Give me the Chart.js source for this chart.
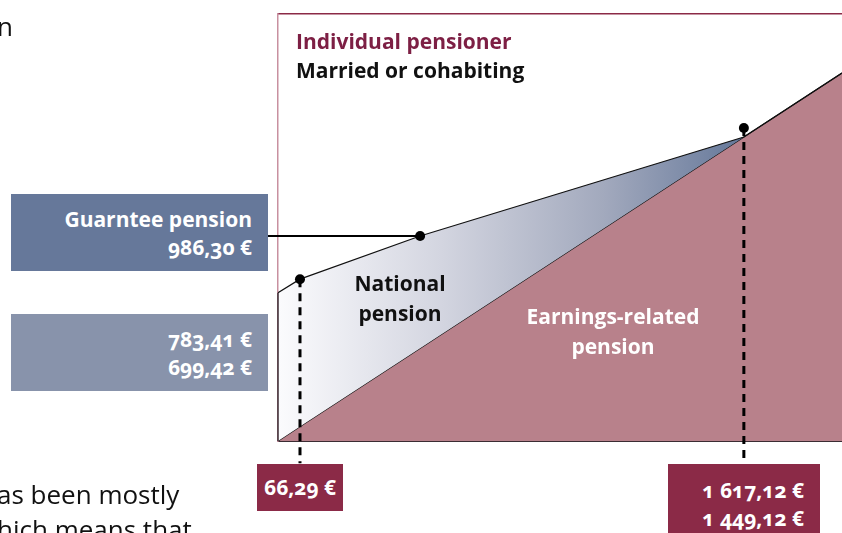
<!DOCTYPE html>
<html>
<head>
<meta charset="utf-8">
<script src="https://cdn.jsdelivr.net/npm/chart.js@4.4.1/dist/chart.umd.min.js"></script>
<style>
  html,body{margin:0;padding:0;background:#fff;overflow:hidden;}
  #wrap{position:relative;width:842px;height:533px;overflow:hidden;font-family:"Open Sans",Lato,sans-serif;}
  canvas{position:absolute;left:0;top:0;}
  .ov{position:absolute;white-space:nowrap;}
  .box{position:absolute;color:#fff;font-weight:700;font-size:21px;line-height:28px;box-sizing:border-box;white-space:nowrap;font-variant-numeric:oldstyle-nums;}
  .body{font-size:26px;color:#111;font-weight:400;}
</style>
</head>
<body>
<div id="wrap">
  <canvas id="c" width="847" height="533"></canvas>
</div>
<script>
// ---- data (schematic units: x = income level 0..100, y = pension level 0..100) ----
const incomeLevels    = [0, 3.9, 25.2, 82.6, 100];
const earningsRelated = [0, 3.4, 21.7, 71.2, 86.2];
const totalPension    = [34.7, 37.9, 48.0, 71.2, 86.2];
const markerX = [3.9, 25.2, 82.6];
const markerY = [37.9, 48.0, 73.3];
const guaranteeLineX = [-1.8, 25.2];
const guaranteeLineY = [48.0, 48.0];
const dropBottom = -5.2;
const titleLines = ["Individual pensioner", "Married or cohabiting"];
const guaranteeLabels = ["Guarntee pension", "986,30 €"];
const nationalLimitLabels = ["783,41 €", "699,42 €"];
const lowLimitLabels = ["66,29 €"];
const highLimitLabels = ["1 617,12 €", "1 449,12 €"];
const areaLabels = { national: ["National", "pension"], earnings: ["Earnings-related", "pension"] };

const pts = (xs, ys) => xs.map((x, i) => ({ x: x, y: ys[i] }));

const datasets = [
  { // markers
    data: pts(markerX, markerY), showLine: false, pointRadius: 5, pointBackgroundColor: '#000',
    pointBorderWidth: 0, clip: false, order: 0
  },
  { // guarantee pension connector
    data: pts(guaranteeLineX, guaranteeLineY), borderColor: '#000', borderWidth: 2, pointRadius: 0, clip: false, order: 1
  },
  { // drop line low
    data: [{ x: markerX[0], y: markerY[0] }, { x: markerX[0], y: dropBottom }], borderColor: '#000', borderWidth: 3,
    borderDash: [8, 6], pointRadius: 0, clip: false, order: 2
  },
  { // drop line high
    data: [{ x: markerX[2], y: markerY[2] }, { x: markerX[2], y: dropBottom }], borderColor: '#000', borderWidth: 3,
    borderDash: [8, 6], pointRadius: 0, clip: false, order: 3
  },
  { // left edge of area
    data: [{ x: 0, y: 0 }, { x: 0, y: totalPension[0] }], borderColor: '#3a2d33', borderWidth: 1.5, pointRadius: 0, clip: false, order: 4
  },
  { // total pension (national + earnings)
    data: pts(incomeLevels, totalPension), borderColor: '#111', borderWidth: 1.2, pointRadius: 0, tension: 0,
    fill: { target: 6 },
    backgroundColor: function (ctx) {
      const chart = ctx.chart; const ca = chart.chartArea;
      if (!ca) return '#a0a8bc';
      const x2 = chart.scales.x.getPixelForValue(incomeLevels[3]);
      const g = chart.ctx.createLinearGradient(ca.left, 0, x2, 0);
      g.addColorStop(0, '#fbfbfd');
      g.addColorStop(0.35, '#d3d5e0');
      g.addColorStop(0.7, '#a2a9bd');
      g.addColorStop(1, '#65789a');
      return g;
    },
    order: 5
  },
  { // earnings-related
    data: pts(incomeLevels, earningsRelated), borderColor: '#111', borderWidth: 1.2, pointRadius: 0, tension: 0,
    fill: 'origin', backgroundColor: '#b8818b', order: 6
  }
];

const axisBase = { type: 'linear', min: 0, max: 100, grid: { display: false, drawTicks: false }, ticks: { display: false } };

new Chart(document.getElementById('c'), {
  type: 'line',
  data: { datasets: datasets },
  options: {
    responsive: false, animation: false, devicePixelRatio: 1,
    layout: { padding: { left: 278, right: 0, top: 14, bottom: 92 } },
    plugins: { legend: { display: false }, tooltip: { enabled: false }, title: { display: false } },
    scales: {
      x: Object.assign({}, axisBase, { border: { display: true, color: '#3b2c33', width: 2 } }),
      xTop: Object.assign({}, axisBase, { position: 'top', border: { display: true, color: '#8b2a47', width: 1.5 } }),
      y: Object.assign({}, axisBase, { border: { display: true, color: '#c890a0', width: 1.5 } })
    }
  }
});

// ---- overlay text & label boxes ----
const wrap = document.getElementById('wrap');
function add(html, style, cls) {
  const d = document.createElement('div');
  d.className = cls || 'ov';
  d.innerHTML = html;
  Object.assign(d.style, style);
  wrap.appendChild(d);
  return d;
}
// surrounding page fragments
add('n', { left: '-3px', top: '8px' }, 'ov body');
add('as been mostly', { left: '-3px', top: '476px' }, 'ov body');
add('hich means that', { left: '-3px', top: '511px' }, 'ov body');
// title
add('<span style="color:#7d1f44">' + titleLines[0] + '</span><br><span style="color:#111">' + titleLines[1] + '</span>',
  { left: '296px', top: '27px', fontSize: '21px', fontWeight: '700', lineHeight: '29px' });
// area labels
add(areaLabels.national.join('<br>'), { left: '330px', top: '268px', width: '140px', textAlign: 'center',
  fontSize: '21px', fontWeight: '700', lineHeight: '30px', color: '#111' });
add(areaLabels.earnings.join('<br>'), { left: '503px', top: '301px', width: '220px', textAlign: 'center',
  fontSize: '21px', fontWeight: '700', lineHeight: '30px', color: '#fff' });
// left boxes
add(guaranteeLabels.join('<br>'), { left: '11px', top: '194px', width: '257px', height: '77px', background: '#66789a',
  textAlign: 'right', paddingRight: '16px', paddingTop: '11px' }, 'box');
add(nationalLimitLabels.join('<br>'), { left: '11px', top: '314px', width: '257px', height: '77px', background: '#8893ab',
  textAlign: 'right', paddingRight: '16px', paddingTop: '11px' }, 'box');
// bottom boxes
add(lowLimitLabels.join('<br>'), { left: '257px', top: '464px', width: '86px', height: '47px', background: '#8b2a47',
  textAlign: 'center', paddingTop: '9px' }, 'box');
add(highLimitLabels.join('<br>'), { left: '668px', top: '464px', width: '152px', height: '80px', background: '#8b2a47',
  textAlign: 'right', paddingRight: '16px', paddingTop: '12px' }, 'box');
</script>
</body>
</html>
